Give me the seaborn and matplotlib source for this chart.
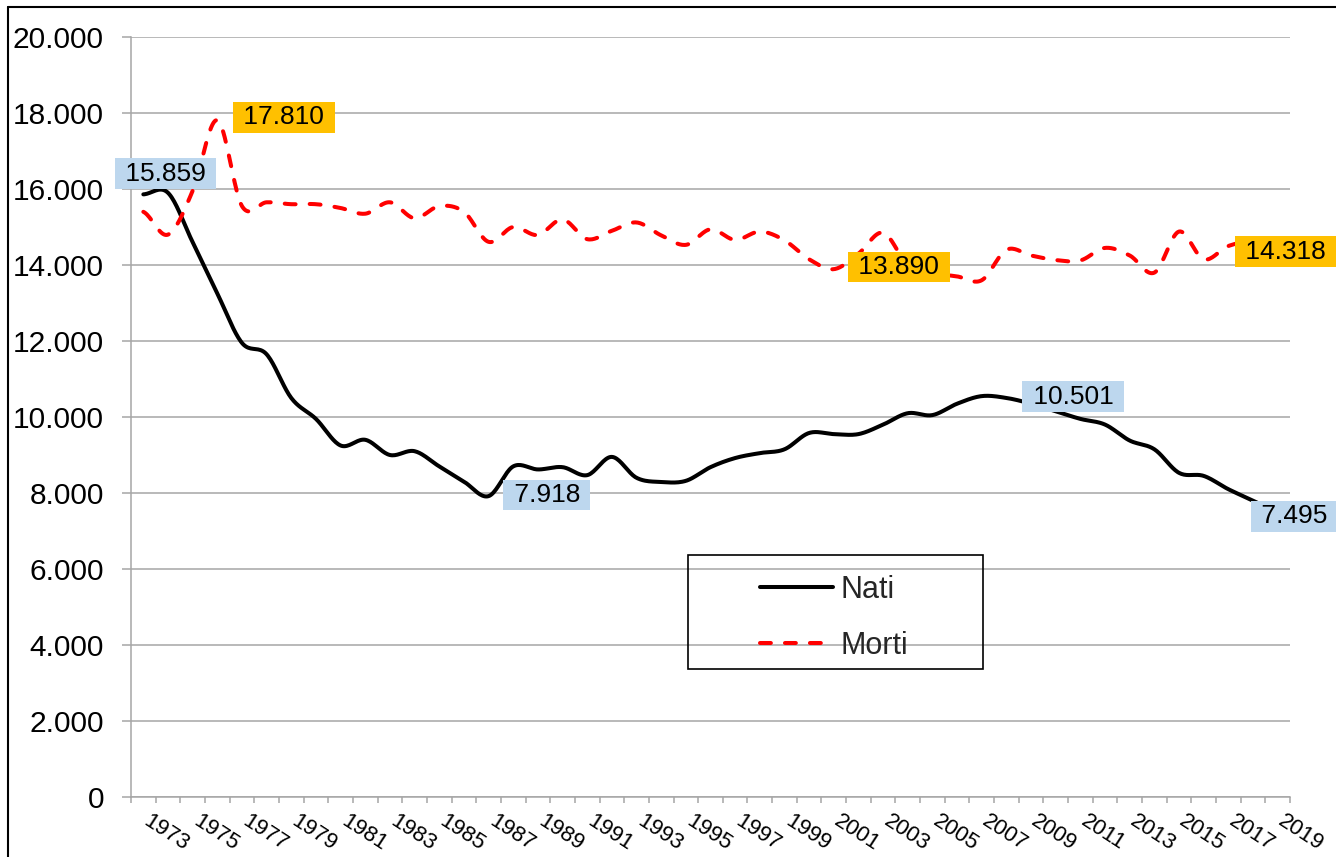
import numpy as np
import pandas as pd
import seaborn as sns
import matplotlib.pyplot as plt
import matplotlib.transforms as mtransforms
from matplotlib.patches import Rectangle
from matplotlib.lines import Line2D
from matplotlib.ticker import FuncFormatter

# data
years = list(range(1973, 2020))
nati = [15859, 15900, 14600, 13250, 11950, 11650, 10500, 9950, 9250, 9400,
        9000, 9100, 8700, 8300, 7918, 8700, 8620, 8680, 8470, 8950,
        8400, 8290, 8320, 8680, 8920, 9050, 9150, 9580, 9550, 9550,
        9800, 10100, 10050, 10350, 10550, 10501, 10350, 10150, 9950, 9800,
        9380, 9150, 8530, 8450, 8100, 7800, 7495]
morti = [15400, 14800, 15950, 17810, 15550, 15650, 15600, 15600, 15500, 15350,
         15650, 15230, 15550, 15400, 14610, 15000, 14790, 15200, 14680, 14900,
         15120, 14780, 14530, 14940, 14660, 14880, 14650, 14150, 13890, 14300,
         14850, 14000, 13800, 13700, 13600, 14400, 14250, 14130, 14120, 14450,
         14250, 13800, 14880, 14150, 14500, 14600, 14318]

# labelled points: (series, year, offset x pt, offset y pt, box colour)
BLUE = "#BDD7EE"
ORANGE = "#FFC000"
labels = [
    ("nati", 1973, 16, 15, BLUE),
    ("morti", 1976, 48, 2, ORANGE),
    ("nati", 1987, 42, 1, BLUE),
    ("nati", 2008, 48, 1, BLUE),
    ("morti", 2001, 47, 1.5, ORANGE),
    ("nati", 2019, 12, -3, BLUE),
    ("morti", 2019, 6, 1, ORANGE),
]


def smooth(vals, n=20):
    # excel style smoothed line: bezier through every point
    p = np.asarray(vals, dtype=float)
    pe = np.concatenate([[p[0]], p, [p[-1]]])
    t = np.linspace(0, 1, n, endpoint=False)
    xs, ys = [], []
    for i in range(len(p) - 1):
        p0, p1, p2, p3 = pe[i], pe[i + 1], pe[i + 2], pe[i + 3]
        c1 = p1 + (p2 - p0) / 6
        c2 = p2 - (p3 - p1) / 6
        y = (1 - t) ** 3 * p1 + 3 * (1 - t) ** 2 * t * c1 + 3 * (1 - t) * t ** 2 * c2 + t ** 3 * p2
        xs.extend(i + t)
        ys.extend(y)
    xs.append(len(p) - 1)
    ys.append(p[-1])
    return pd.DataFrame({"x": xs, "y": ys})


def fmt(v):
    return f"{int(round(v)):,}".replace(",", ".")


sns.set_theme(style="white")
plt.rcParams["font.family"] = ["Liberation Sans", "DejaVu Sans"]

W, H = 1336, 857
fig = plt.figure(figsize=(W / 100, H / 100), dpi=100)
ax = fig.add_axes([131 / W, 60 / H, (1290 - 131) / W, (797 - 37) / H])

GRID = "#A6A6A6"

sns.lineplot(data=smooth(nati), x="x", y="y", color="black", lw=2.9,
             estimator=None, sort=False, ax=ax, label="Nati")
sns.lineplot(data=smooth(morti), x="x", y="y", color="#FF0000", lw=2.9,
             estimator=None, sort=False, ax=ax, label="Morti")
ax.lines[1].set_dashes([2.7, 3.5])
ax.lines[1].set_dash_capstyle("round")
ax.lines[0].set_solid_capstyle("round")

series = {"nati": nati, "morti": morti}
for name, yr, dx, dy, col in labels:
    i = years.index(yr)
    v = series[name][i]
    ax.annotate(" " + fmt(v) + " ", xy=(i, v), xytext=(dx, dy), textcoords="offset points",
                ha="center", va="center", fontsize=19, color="black", zorder=5,
                bbox=dict(boxstyle="square,pad=0.12", fc=col, ec="none"),
                annotation_clip=False)

ax.set_xlim(-0.5, len(years) - 0.5)
ax.set_ylim(0, 20000)
ax.set_yticks(range(0, 20001, 2000))
ax.yaxis.set_major_formatter(FuncFormatter(lambda v, _: fmt(v)))
ax.set_xticks(range(0, len(years), 2))
ax.set_xticklabels([str(years[i]) for i in range(0, len(years), 2)])
ax.set_xticks(np.arange(-0.5, len(years), 1), minor=True)
ax.set_xlabel("")
ax.set_ylabel("")

ax.tick_params(axis="x", which="major", bottom=True, length=0, pad=10, labelsize=16,
               labelcolor="black")
ax.tick_params(axis="x", which="minor", bottom=True, length=4.5, width=1.1, color=GRID)
ax.tick_params(axis="y", left=True, length=6.5, width=1.1, color=GRID, pad=13,
               labelsize=21.5, labelcolor="black")
shift = mtransforms.ScaledTranslation(8 / 100, 0, fig.dpi_scale_trans)
for lbl in ax.get_xticklabels():
    lbl.set_rotation(-33)
    lbl.set_ha("left")
    lbl.set_va("top")
    lbl.set_rotation_mode("anchor")
    lbl.set_transform(lbl.get_transform() + shift)

ax.yaxis.grid(True, color=GRID, lw=1.1)
ax.xaxis.grid(False)
ax.set_axisbelow(True)
for s in ["top", "right"]:
    ax.spines[s].set_visible(False)
for s in ["left", "bottom"]:
    ax.spines[s].set_color(GRID)
    ax.spines[s].set_linewidth(1.1)

# legend without frame, box drawn separately
ax.get_legend().remove()
handles, names = ax.get_legend_handles_labels()
fig.legend(handles, names, loc="upper left", bbox_to_anchor=(760 / W, 1 - 575 / H),
           frameon=False, fontsize=22, handlelength=2.4, handletextpad=0.25,
           labelspacing=0.85, borderpad=0, borderaxespad=0)
fig.add_artist(Rectangle((688 / W, 1 - 669 / H), 295 / W, 114 / H, transform=fig.transFigure,
                         fill=False, ec="black", lw=1.2))

# outer chart border (cropped on right and bottom)
fig.add_artist(Line2D([8 / W, 8 / W], [0, 1 - 7 / H], transform=fig.transFigure,
                      color="black", lw=1.5))
fig.add_artist(Line2D([8 / W, 1], [1 - 7 / H, 1 - 7 / H], transform=fig.transFigure,
                      color="black", lw=1.5))

fig.savefig("out.png", dpi=100)
